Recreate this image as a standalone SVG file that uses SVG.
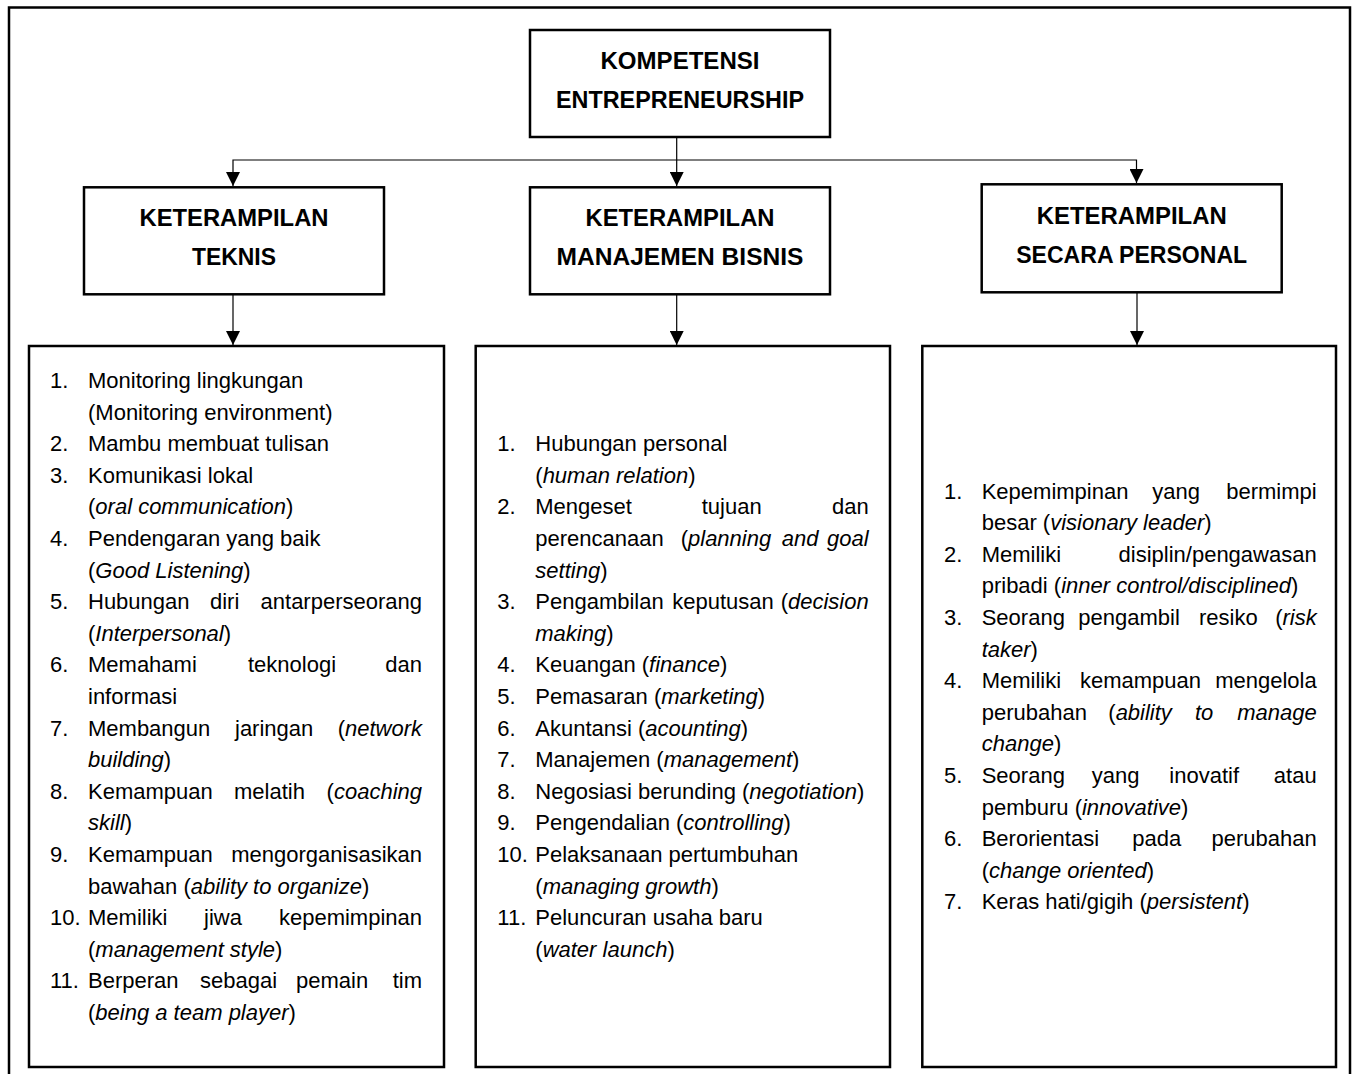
<svg xmlns="http://www.w3.org/2000/svg" width="1352" height="1074" viewBox="0 0 1352 1074">
<style>
.frame{fill:none;stroke:#000;stroke-width:2.5}
.box{fill:#fff;stroke:#000;stroke-width:2.5}
.h{font-family:"Liberation Sans",Arial,sans-serif;font-weight:bold;font-size:23px;text-anchor:middle;fill:#000}
.t{font-family:"Liberation Sans",Arial,sans-serif;font-size:22px;fill:#000}
.e{text-anchor:end}
.i{font-style:italic}
.c{fill:none;stroke:#000;stroke-width:1.2}
</style>
<defs>
<marker id="arr" markerUnits="userSpaceOnUse" markerWidth="14" markerHeight="14" refX="14" refY="7" orient="auto">
<path d="M0,0 L14,7 L0,14 z" fill="#000"/>
</marker>
</defs>
<rect x="0" y="0" width="1352" height="1074" fill="#fff"/>
<rect class="frame" x="9" y="7.5" width="1341" height="1080"/>

<g id="connectors">
<path class="c" d="M676.7,137 V186" marker-end="url(#arr)"/>
<path class="c" d="M676.7,160 H233 V186" marker-end="url(#arr)"/>
<path class="c" d="M676.7,160 H1136.5 V183" marker-end="url(#arr)"/>
<path class="c" d="M233,295 V345" marker-end="url(#arr)"/>
<path class="c" d="M676.7,295 V345" marker-end="url(#arr)"/>
<path class="c" d="M1137,293 V345" marker-end="url(#arr)"/>
</g>

<g id="root">
<rect class="box" x="530" y="30" width="300" height="107"/>
<text class="h" x="680" y="69" textLength="159" lengthAdjust="spacingAndGlyphs">KOMPETENSI</text>
<text class="h" x="680" y="107.5" textLength="248" lengthAdjust="spacingAndGlyphs">ENTREPRENEURSHIP</text>
</g>

<g id="teknis">
<rect class="box" x="84" y="187.3" width="300" height="107"/>
<text class="h" x="234" y="226" textLength="189" lengthAdjust="spacingAndGlyphs">KETERAMPILAN</text>
<text class="h" x="234" y="265" textLength="84" lengthAdjust="spacingAndGlyphs">TEKNIS</text>
</g>

<g id="manajemen">
<rect class="box" x="530" y="187.3" width="300" height="107"/>
<text class="h" x="680" y="226" textLength="189" lengthAdjust="spacingAndGlyphs">KETERAMPILAN</text>
<text class="h" x="680" y="265" textLength="247" lengthAdjust="spacingAndGlyphs">MANAJEMEN BISNIS</text>
</g>

<g id="personal">
<rect class="box" x="981.7" y="184.3" width="300" height="108"/>
<text class="h" x="1131.7" y="224" textLength="190" lengthAdjust="spacingAndGlyphs">KETERAMPILAN</text>
<text class="h" x="1131.7" y="263.3" textLength="231" lengthAdjust="spacingAndGlyphs">SECARA PERSONAL</text>
</g>

<g id="list-teknis">
<rect class="box" x="29" y="346" width="415" height="721"/>
<g class="t">
<text x="50" y="388">1.</text><text x="88" y="388">Monitoring lingkungan</text>
<text x="88" y="419.6">(Monitoring environment)</text>
<text x="50" y="451.2">2.</text><text x="88" y="451.2">Mambu membuat tulisan</text>
<text x="50" y="482.8">3.</text><text x="88" y="482.8">Komunikasi lokal</text>
<text x="88" y="514.4">(<tspan class="i">oral communication</tspan>)</text>
<text x="50" y="546">4.</text><text x="88" y="546">Pendengaran yang baik</text>
<text x="88" y="577.6">(<tspan class="i">Good Listening</tspan>)</text>
<text x="50" y="609.2">5.</text><text x="88" y="609.2">Hubungan</text><text x="210" y="609.2">diri</text><text class="e" x="422" y="609.2">antarperseorang</text>
<text x="88" y="640.8">(<tspan class="i">Interpersonal</tspan>)</text>
<text x="50" y="672.4">6.</text><text x="88" y="672.4">Memahami</text><text x="248" y="672.4">teknologi</text><text class="e" x="422" y="672.4">dan</text>
<text x="88" y="704">informasi</text>
<text x="50" y="735.6">7.</text><text x="88" y="735.6">Membangun</text><text x="235" y="735.6">jaringan</text><text class="e" x="422" y="735.6">(<tspan class="i">network</tspan></text>
<text x="88" y="767.2"><tspan class="i">building</tspan>)</text>
<text x="50" y="798.8">8.</text><text x="88" y="798.8">Kemampuan</text><text x="234" y="798.8">melatih</text><text class="e" x="422" y="798.8">(<tspan class="i">coaching</tspan></text>
<text x="88" y="830.4"><tspan class="i">skill</tspan>)</text>
<text x="50" y="862">9.</text><text x="88" y="862">Kemampuan</text><text class="e" x="422" y="862">mengorganisasikan</text>
<text x="88" y="893.6">bawahan (<tspan class="i">ability to organize</tspan>)</text>
<text x="50" y="925.2">10.</text><text x="88" y="925.2">Memiliki</text><text x="204" y="925.2">jiwa</text><text class="e" x="422" y="925.2">kepemimpinan</text>
<text x="88" y="956.8">(<tspan class="i">management style</tspan>)</text>
<text x="50" y="988.4">11.</text><text x="88" y="988.4">Berperan</text><text x="200" y="988.4">sebagai</text><text x="296" y="988.4">pemain</text><text class="e" x="422" y="988.4">tim</text>
<text x="88" y="1020">(<tspan class="i">being a team player</tspan>)</text>
</g>
</g>

<g id="list-manajemen">
<rect class="box" x="475.7" y="346" width="414.3" height="721"/>
<g class="t">
<text x="497.3" y="451.2">1.</text><text x="535.3" y="451.2">Hubungan personal</text>
<text x="535.3" y="482.8">(<tspan class="i">human relation</tspan>)</text>
<text x="497.3" y="514.4">2.</text><text x="535.3" y="514.4">Mengeset</text><text x="701.7" y="514.4">tujuan</text><text class="e" x="868.7" y="514.4">dan</text>
<text x="535.3" y="546">perencanaan</text><text x="680.7" y="546">(<tspan class="i">planning</tspan></text><text x="781.7" y="546" class="i">and</text><text class="e i" x="868.7" y="546">goal</text>
<text x="535.3" y="577.6"><tspan class="i">setting</tspan>)</text>
<text x="497.3" y="609.2">3.</text><text x="535.3" y="609.2">Pengambilan</text><text x="672.3" y="609.2">keputusan</text><text class="e" x="868.7" y="609.2">(<tspan class="i">decision</tspan></text>
<text x="535.3" y="640.8"><tspan class="i">making</tspan>)</text>
<text x="497.3" y="672.4">4.</text><text x="535.3" y="672.4">Keuangan (<tspan class="i">finance</tspan>)</text>
<text x="497.3" y="704">5.</text><text x="535.3" y="704">Pemasaran (<tspan class="i">marketing</tspan>)</text>
<text x="497.3" y="735.6">6.</text><text x="535.3" y="735.6">Akuntansi (<tspan class="i">acounting</tspan>)</text>
<text x="497.3" y="767.2">7.</text><text x="535.3" y="767.2">Manajemen (<tspan class="i">management</tspan>)</text>
<text x="497.3" y="798.8">8.</text><text x="535.3" y="798.8">Negosiasi berunding (<tspan class="i">negotiation</tspan>)</text>
<text x="497.3" y="830.4">9.</text><text x="535.3" y="830.4">Pengendalian (<tspan class="i">controlling</tspan>)</text>
<text x="497.3" y="862">10.</text><text x="535.3" y="862">Pelaksanaan pertumbuhan</text>
<text x="535.3" y="893.6">(<tspan class="i">managing growth</tspan>)</text>
<text x="497.3" y="925.2">11.</text><text x="535.3" y="925.2">Peluncuran usaha baru</text>
<text x="535.3" y="956.8">(<tspan class="i">water launch</tspan>)</text>
</g>
</g>

<g id="list-personal">
<rect class="box" x="922.3" y="346" width="413.7" height="721"/>
<g class="t">
<text x="944" y="498.5">1.</text><text x="981.7" y="498.5">Kepemimpinan</text><text x="1152.3" y="498.5">yang</text><text class="e" x="1316.7" y="498.5">bermimpi</text>
<text x="981.7" y="530.1">besar (<tspan class="i">visionary leader</tspan>)</text>
<text x="944" y="561.7">2.</text><text x="981.7" y="561.7">Memiliki</text><text class="e" x="1316.7" y="561.7">disiplin/pengawasan</text>
<text x="981.7" y="593.3">pribadi (<tspan class="i">inner control/disciplined</tspan>)</text>
<text x="944" y="624.9">3.</text><text x="981.7" y="624.9">Seorang</text><text x="1078.3" y="624.9">pengambil</text><text x="1199" y="624.9">resiko</text><text class="e" x="1316.7" y="624.9">(<tspan class="i">risk</tspan></text>
<text x="981.7" y="656.5"><tspan class="i">taker</tspan>)</text>
<text x="944" y="688.1">4.</text><text x="981.7" y="688.1">Memiliki</text><text x="1080" y="688.1">kemampuan</text><text class="e" x="1316.7" y="688.1">mengelola</text>
<text x="981.7" y="719.7">perubahan</text><text x="1108.3" y="719.7">(<tspan class="i">ability</tspan></text><text x="1195" y="719.7" class="i">to</text><text class="e i" x="1316.7" y="719.7">manage</text>
<text x="981.7" y="751.3"><tspan class="i">change</tspan>)</text>
<text x="944" y="782.9">5.</text><text x="981.7" y="782.9">Seorang</text><text x="1091.7" y="782.9">yang</text><text x="1169.3" y="782.9">inovatif</text><text class="e" x="1316.7" y="782.9">atau</text>
<text x="981.7" y="814.5">pemburu (<tspan class="i">innovative</tspan>)</text>
<text x="944" y="846.1">6.</text><text x="981.7" y="846.1">Berorientasi</text><text x="1132.3" y="846.1">pada</text><text class="e" x="1316.7" y="846.1">perubahan</text>
<text x="981.7" y="877.7">(<tspan class="i">change oriented</tspan>)</text>
<text x="944" y="909.3">7.</text><text x="981.7" y="909.3">Keras hati/gigih (<tspan class="i">persistent</tspan>)</text>
</g>
</g>
</svg>
